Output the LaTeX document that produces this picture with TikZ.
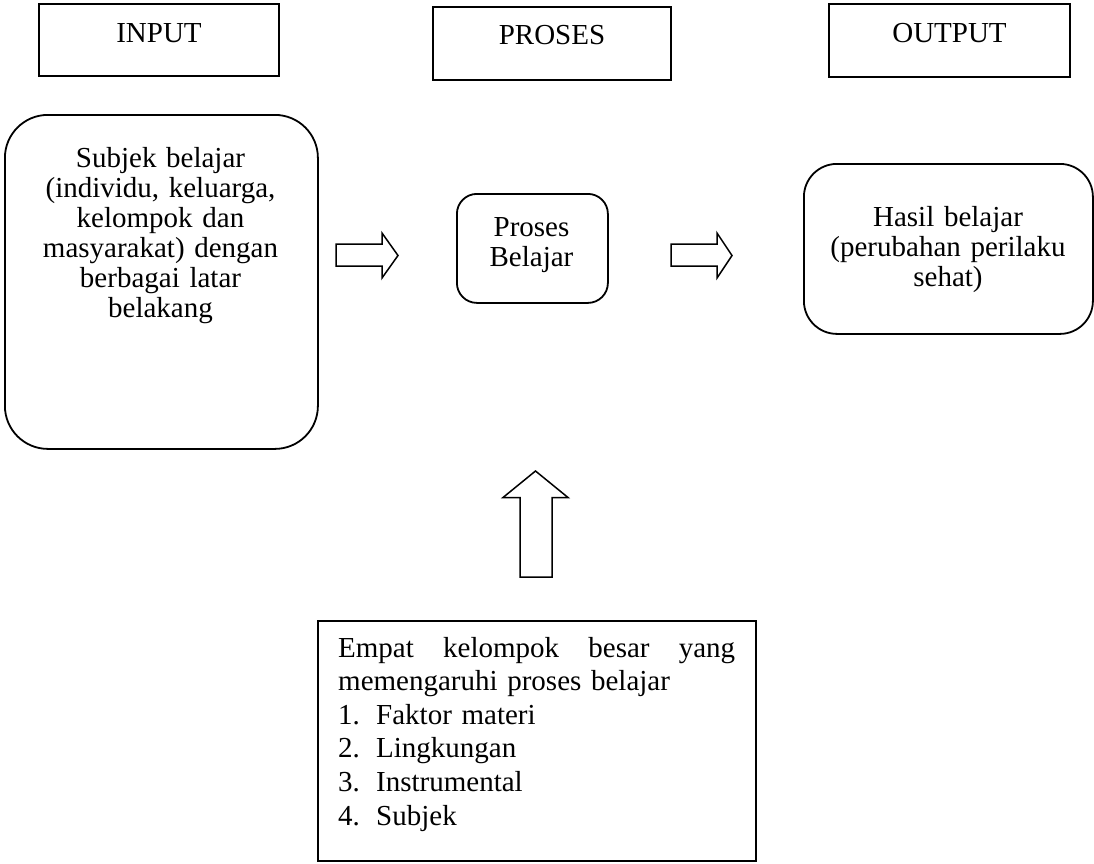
\documentclass[tikz,border=0pt]{standalone}
\usepackage{fontspec}
\setmainfont{Liberation Serif}
\begin{document}
\begin{tikzpicture}[x=1pt,y=-1pt,
  hdr/.style={draw, line width=2pt, inner sep=0pt, anchor=north west,
    font=\fontsize{29}{30}\selectfont},
  rbox/.style={draw, line width=1.8pt, rounded corners=#1, inner sep=0pt, anchor=north west},
  txt/.style={inner sep=0pt, font=\fontsize{29}{30}\selectfont},
  barrow/.style={draw, line width=1.5pt, line join=miter, fill=white}]
\useasboundingbox (0,0) rectangle (1094,863);

% header boxes
\node[hdr, minimum width=240pt, text height=38pt, text depth=34pt] (input) at (38,3) {INPUT};
\node[hdr, minimum width=238pt, text height=37.5pt, text depth=35.5pt] (proses) at (432,6) {PROSES};
\node[hdr, minimum width=241pt, text height=38pt, text depth=35pt] (output) at (828,3) {OUTPUT};

% rounded boxes
\node[rbox=43pt, minimum width=313pt, minimum height=334pt] (subj) at (4,114) {};
\node[txt, text width=300pt, align=center, anchor=base] (subjt) at (160.5,167)
  {Subjek belajar\\(individu, keluarga,\\kelompok dan\\masyarakat) dengan\\berbagai latar\\belakang};

\node[rbox=20pt, minimum width=151pt, minimum height=109pt] (pb) at (456,193) {};
\node[txt, text width=140pt, align=center, anchor=base] (pbt) at (531.5,236)
  {Proses\\Belajar};

\node[rbox=33pt, minimum width=289pt, minimum height=170pt] (hasil) at (803,163) {};
\node[txt, text width=280pt, align=center, anchor=base] (hasilt) at (948,226)
  {Hasil belajar\\(perubahan perilaku\\sehat)};

% bottom box
\node[draw, line width=1.8pt, inner sep=0pt, anchor=north west,
  minimum width=438pt, minimum height=240pt] (faktor) at (317,620) {};
\node[inner sep=0pt, font=\fontsize{29}{33.6}\selectfont, text width=397pt, align=left,
  anchor=base west] (faktort) at (338,657)
  {\hbox to 397pt{Empat\hfill kelompok\hfill besar\hfill yang}\\
   memengaruhi proses belajar\\
   \makebox[38pt][l]{1.}Faktor materi\\
   \makebox[38pt][l]{2.}Lingkungan\\
   \makebox[38pt][l]{3.}Instrumental\\
   \makebox[38pt][l]{4.}Subjek};

% block arrows
\draw[barrow] (336,244) -- (382,244) -- (382,233) -- (398,255.5) -- (382,278)
  -- (382,266) -- (336,266) -- cycle;
\draw[barrow] (671,244) -- (717,244) -- (717,233) -- (732,255.5) -- (717,278)
  -- (717,266) -- (671,266) -- cycle;
\draw[barrow] (520,577) -- (520,497.5) -- (503,497.5) -- (535.5,471) -- (568,497.5)
  -- (552,497.5) -- (552,577) -- cycle;
\end{tikzpicture}
\end{document}
